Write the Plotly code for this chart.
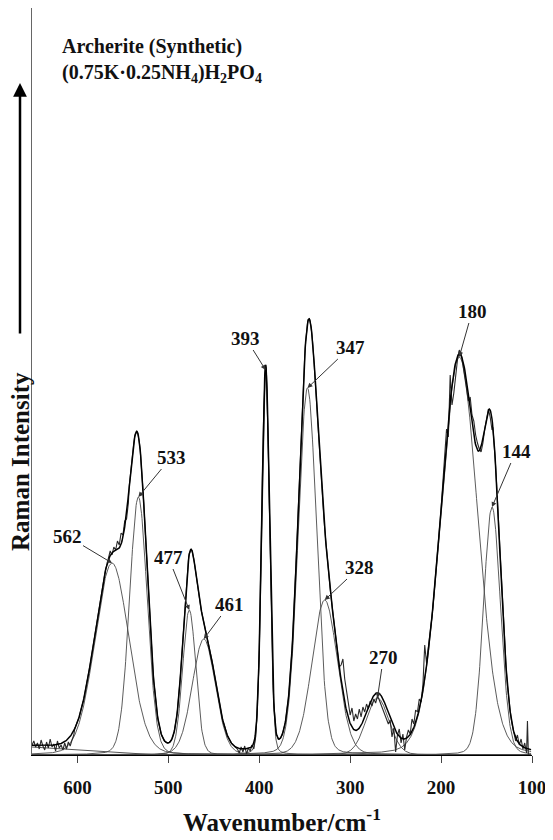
import numpy as np
import plotly.graph_objects as go

# ---------------- data ----------------
# fitted band components: centre (cm-1), peak height (intensity units), FWHM (cm-1)
band_labels = ["562", "533", "477", "461", "393", "347", "328", "270", "180", "144"]
band_centres = [562, 533, 477, 461, 393, 347, 328, 270, 180, 144]
band_heights = [192, 258, 145, 116, 385, 367, 155, 57, 398, 248]
band_fwhm = [44, 23, 17, 30, 10, 24, 33, 30, 48, 22]
lorentz_fraction = 0.1

# linear baseline (end points)
baseline_wn = [650, 510]
baseline_val = [8, 0]

# observed (noisy) spectrum, read in the regions where it departs from the fit
obs_a_wn = [650, 648, 646, 644, 642, 640, 638, 636, 634, 632, 630, 628,
            626, 624, 622, 620, 618, 616, 614, 612, 610, 608, 606, 604]
obs_a_val = [10, 14, 8, 12, 6, 15, 9, 5, 13, 7, 16, 8,
             11, 4, 14, 7, 10, 5, 12, 6, 13, 9, 15, 20]

obs_e_wn = [566, 564, 562, 560, 558, 556, 554, 552, 550, 548, 546, 544]
obs_e_val = [196, 204, 200, 208, 205, 214, 210, 222, 220, 234, 236, 252]

obs_f_wn = [424, 422, 420, 418, 416, 414, 412, 410, 408, 406, 404]
obs_f_val = [6, 2, 8, 3, 9, 1, 7, 4, 10, 6, 18]

obs_b_wn = [312, 310, 308, 306, 304, 302, 300, 298, 296, 294, 292, 290, 288,
            286, 284, 282, 280, 278, 276, 274, 272, 270, 268, 266, 264, 262,
            260, 258, 256, 254, 252, 250, 248, 246, 244, 242, 240, 238, 236,
            234, 232, 230, 228, 226, 224, 222, 220, 218, 216, 214]
obs_b_val = [88, 90, 96, 76, 66, 52, 40, 47, 34, 41, 36, 46, 38,
             48, 43, 51, 46, 54, 49, 56, 52, 59, 55, 50, 45, 41,
             36, 31, 35, 18, 27, 3, 20, 26, 12, 21, 5, 18, 25,
             21, 36, 31, 45, 43, 56, 53, 70, 110, 92, 106]

obs_d_wn = [196, 194, 192, 190, 188, 186, 184, 182, 180, 178, 176, 174, 172,
            170, 168, 166, 164, 162, 160, 158, 156, 154, 152, 150, 148, 146, 144]
obs_d_val = [300, 326, 318, 380, 350, 362, 380, 395, 405, 402, 390, 378, 366,
             354, 358, 340, 334, 320, 312, 306, 303, 312, 326, 338, 346, 338, 325]

obs_c_wn = [120, 118, 116, 114, 112, 110, 108, 106, 105, 104, 103]
obs_c_val = [22, 14, 20, 10, 16, 6, 12, 2, 34, 1, 0]

x_ticks = [600, 500, 400, 300, 200, 100]

# ---------------- model evaluation ----------------
def band(x, c, h, w):
    u = (x - c) / w
    g = np.exp(-4 * np.log(2) * u ** 2)
    l = 1.0 / (1.0 + 4 * u ** 2)
    return h * (lorentz_fraction * l + (1 - lorentz_fraction) * g)


def base(x):
    x = np.asarray(x, dtype=float)
    slope = (baseline_val[0] - baseline_val[1]) / (baseline_wn[0] - baseline_wn[1])
    return np.where(x > baseline_wn[1], baseline_val[1] + slope * (x - baseline_wn[1]), 0.0)


def fit(x):
    x = np.asarray(x, dtype=float)
    total = base(x)
    for c, h, w in zip(band_centres, band_heights, band_fwhm):
        total = total + band(x, c, h, w)
    return total


grid = np.arange(650, 100.9, -0.5)

segments = [(obs_a_wn, obs_a_val), (obs_e_wn, obs_e_val), (obs_f_wn, obs_f_val),
            (obs_b_wn, obs_b_val), (obs_d_wn, obs_d_val), (obs_c_wn, obs_c_val)]
pts = {}
coarse = np.arange(650, 102.9, -1.0)
for g in coarse:
    inside = any(min(w) <= g <= max(w) for w, _ in segments)
    if not inside:
        pts[float(g)] = float(fit([g])[0])
for w, v in segments:
    for a, b in zip(w, v):
        pts[float(a)] = float(b)
obs_x = sorted(pts.keys(), reverse=True)
obs_y = [pts[k] for k in obs_x]

fig = go.Figure()

# baseline
fig.add_trace(go.Scatter(x=baseline_wn, y=baseline_val, mode="lines",
                         line=dict(color="#555555", width=1), hoverinfo="skip"))
# components
for c, h, w in zip(band_centres, band_heights, band_fwhm):
    fig.add_trace(go.Scatter(x=grid, y=band(grid, c, h, w), mode="lines",
                             line=dict(color="#4a4a4a", width=0.9), hoverinfo="skip"))
# observed
fig.add_trace(go.Scatter(x=obs_x, y=obs_y, mode="lines",
                         line=dict(color="#2a2a2a", width=1.1), hoverinfo="skip"))
# fitted envelope
fig.add_trace(go.Scatter(x=grid, y=fit(grid), mode="lines",
                         line=dict(color="#000000", width=1.5), hoverinfo="skip"))

SERIF = "Liberation Serif, Times New Roman, serif"

# peak label arrows (tail offsets in pixels)
label_offsets = {"562": (-45, -27), "533": (33, -40), "477": (-21, -53), "461": (26, -35),
                 "393": (-20, -32), "347": (43, -41), "328": (35, -33), "270": (6, -41),
                 "180": (13, -46), "144": (24, -56)}
annotations = []
for lab, c, h in zip(band_labels, band_centres, band_heights):
    ax, ay = label_offsets[lab]
    annotations.append(dict(x=c, y=h, xref="x", yref="y", text="<b>%s</b>" % lab,
                            showarrow=True, ax=ax, ay=ay, axref="pixel", ayref="pixel",
                            xanchor="center", yanchor="middle",
                            arrowhead=2, arrowsize=1, arrowwidth=1, arrowcolor="#333333",
                            standoff=0, font=dict(family=SERIF, size=19, color="#111111")))

# plot area: 500 x 747 px
# title block
annotations.append(dict(x=0.056, y=(747 - 25) / 747, xref="paper", yref="paper", xanchor="left",
                        yanchor="top", align="left", showarrow=False,
                        text="<b>Archerite (Synthetic)</b><br><b>(0.75K\u00b70.25NH<sub>4</sub>)H<sub>2</sub>PO<sub>4</sub></b>",
                        font=dict(family=SERIF, size=20, color="#111111")))
# y label
annotations.append(dict(x=-0.024, y=(755 - 462) / 747, xref="paper", yref="paper", showarrow=False,
                        xanchor="center", yanchor="middle",
                        textangle=-90, text="<b>Raman Intensity</b>",
                        font=dict(family=SERIF, size=25, color="#111111")))
# intensity arrow
annotations.append(dict(x=-0.024, y=(755 - 83) / 747, xref="paper", yref="paper", text="",
                        showarrow=True, ax=0, ay=252, axref="pixel", ayref="pixel",
                        arrowhead=2, arrowsize=1.1, arrowwidth=2.5, arrowcolor="#000000",
                        standoff=0))
# x title
annotations.append(dict(x=0.5, y=(755 - 820) / 747, xref="paper", yref="paper", showarrow=False,
                        xanchor="center", yanchor="middle",
                        text="<b>Wavenumber/cm<sup>-1</sup></b>",
                        font=dict(family=SERIF, size=25, color="#111111")))

# the page body adds an 8 px offset, so the figure is drawn 8 px smaller
fig.update_layout(
    width=545, height=832, autosize=False,
    margin=dict(l=24, r=21, t=0, b=85, pad=0),
    paper_bgcolor="white", plot_bgcolor="white",
    showlegend=False,
    annotations=annotations,
    xaxis=dict(range=[650, 100], tickvals=x_ticks, ticktext=[str(t) for t in x_ticks],
               ticks="outside", ticklen=7, tickcolor="#444444", showline=True,
               linecolor="#000000", linewidth=1, showgrid=False, zeroline=False,
               ticklabelstandoff=8,
               tickfont=dict(family=SERIF, size=19, color="#111111", weight="bold")),
    yaxis=dict(range=[0, 747], showline=True, linecolor="#666666", linewidth=1,
               showticklabels=False, ticks="", showgrid=False, zeroline=False),
)

fig.write_html("out.html")
